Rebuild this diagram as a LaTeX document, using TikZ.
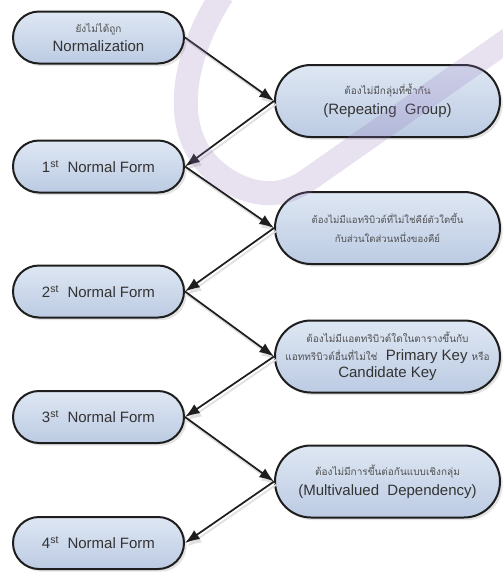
\documentclass[tikz,border=0pt]{standalone}
\usepackage{fontspec}
\setmainfont{Liberation Sans}
\newfontfamily\thaifont[Script=Thai]{Loma}
\usetikzlibrary{shapes.misc,shadows,arrows.meta}

\definecolor{ink}{HTML}{1E1E1E}
\definecolor{txt}{HTML}{333333}
\definecolor{thaitxt}{HTML}{505050}
\definecolor{boxtop}{HTML}{DEE7F3}
\definecolor{boxbot}{HTML}{BCCBE3}
\definecolor{markviolet}{RGB}{150,120,190}

% small grey Thai caption text
\newcommand\thaitext[1]{{\thaifont\fontsize{7.5pt}{9pt}\selectfont\color{thaitxt}#1}}

\tikzset{
  stage/.style={rounded rectangle, draw=ink, line width=1.5pt,
    top color=boxtop, bottom color=boxbot,
    minimum width=128.25pt, minimum height=39pt, inner sep=0pt,
    font=\fontsize{11.25pt}{13.5pt}\selectfont, text=txt, align=center,
    drop shadow={shadow xshift=2pt, shadow yshift=-2pt, opacity=0.22}},
  rulebox/.style={stage, minimum width=168.75pt, minimum height=54pt},
  link/.style={draw=ink, line width=1.3pt, -{Latex[length=11pt,width=8pt]},
    preaction={draw=black!12, line width=1.3pt,
      transform canvas={shift={(1.5pt,-2.5pt)}}}},
}

\begin{document}
\begin{tikzpicture}[x=0.75pt,y=-0.75pt]
  \useasboundingbox (0,0) rectangle (503,572);
  \fill[white] (0,0) rectangle (503,572);

  % normal form stages (left column)
  \node[stage] (n0) at (98.5,37.5) {\thaitext{ยังไม่ได้ถูก}\\[1pt]Normalization};
  \node[stage] (n1) at (98.5,166.5) {1\textsuperscript{st}\ \ Normal Form};
  \node[stage] (n2) at (98.5,291.5) {2\textsuperscript{st}\ \ Normal Form};
  \node[stage] (n3) at (98.5,417) {3\textsuperscript{st}\ \ Normal Form};
  \node[stage] (n4) at (98.5,543) {4\textsuperscript{st}\ \ Normal Form};

  % conditions (right column)
  \node[rulebox] (r1) at (387.5,101) {\thaitext{ต้องไม่มีกลุ่มที่ซ้ำกัน}\\[1.5pt](Repeating\ \ Group)};
  \node[rulebox, font=\thaifont\fontsize{7.2pt}{9pt}\selectfont, text=thaitxt] (r2) at (387.5,228)
    {ต้องไม่มีแอทริบิวต์ที่ไม่ใช่คีย์ตัวใดขึ้น\\[5pt]กับส่วนใดส่วนหนึ่งของคีย์};
  \node[rulebox] (r3) at (387.5,356.5)
    {\thaitext{ต้องไม่มีแอตทริบิวต์ใดในตารางขึ้นกับ}\\[0pt]
     \thaitext{แอททริบิวต์อื่นที่ไม่ใช่}\ \ Primary Key \thaitext{หรือ}\\[-1pt]Candidate Key};
  \node[rulebox] (r4) at (387.5,481.5) {\thaitext{ต้องไม่มีการขึ้นต่อกันแบบเชิงกลุ่ม}\\[1.5pt](Multivalued\ \ Dependency)};

  % zig-zag flow between stages and conditions
  \draw[link] (n0.east) -- (r1.west);
  \draw[link] (r1.west) -- (n1.east);
  \draw[link] (n1.east) -- (r2.west);
  \draw[link] (r2.west) -- (n2.east);
  \draw[link] (n2.east) -- (r3.west);
  \draw[link] (r3.west) -- (n3.east);
  \draw[link] (n3.east) -- (r4.west);
  \draw[link] (r4.west) -- (n4.east);

  % translucent violet swoosh mark
  \begin{scope}
    \clip (0,0) rectangle (503,572);
    \draw[markviolet, opacity=0.22, line width=18pt]
      (222,-5) .. controls (180,60) and (162,150) .. (238,186)
      .. controls (263,197) and (285,195) .. (305,182) -- (515,35);
  \end{scope}
\end{tikzpicture}
\end{document}
